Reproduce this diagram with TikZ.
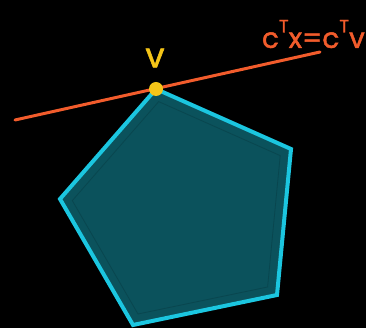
\documentclass[tikz,border=0pt]{standalone}
\usepackage{fontspec}
\setmainfont{Poppins}
\newfontfamily\handfont[FakeBold=1.6]{Poppins}
\usepackage{xcolor}
\definecolor{cBg}    {HTML}{000000}
\definecolor{cFill}  {HTML}{0B525C}
\definecolor{cInner} {HTML}{09464F}
\definecolor{cEdge}  {HTML}{1BC6E0}
\definecolor{cLine}  {HTML}{F25C2C}
\definecolor{cDot}   {HTML}{F5C518}
\usetikzlibrary{calc, positioning}
\newcommand{\supT}{\raisebox{0.55em}{\fontsize{18}{18}\selectfont T}}
\tikzset{
  poly/.style  = {draw=cEdge, fill=cFill, line width=4pt, line join=miter},
  inner/.style = {draw=cInner, line width=0.8pt},
  hyp/.style   = {draw=cLine, line width=3pt, line cap=round},
  vtx/.style   = {circle, fill=cDot, inner sep=0pt, minimum size=14pt},
  lbl/.style   = {text=#1, font=\handfont\fontsize{28}{28}\selectfont, inner sep=0pt},
}

\begin{document}
\begin{tikzpicture}[x=1pt, y=-1pt]
  \fill[cBg] (0,0) rectangle (366,328);
  \useasboundingbox (0,0) rectangle (366,328);

  % pentagon corners
  \coordinate (p1) at (156,89);
  \coordinate (p2) at (291,149);
  \coordinate (p3) at (277,295);
  \coordinate (p4) at (133,325);
  \coordinate (p5) at (60,199);
  \coordinate (mid) at (183,215);

  \draw[poly] (p1) -- (p2) -- (p3) -- (p4) -- (p5) -- cycle;
  \draw[inner] ($(mid)!0.9!(p1)$) -- ($(mid)!0.9!(p2)$) -- ($(mid)!0.9!(p3)$)
               -- ($(mid)!0.9!(p4)$) -- ($(mid)!0.9!(p5)$) -- cycle;

  % supporting line
  \coordinate (la) at (15,120);
  \coordinate (lb) at (320,52);
  \draw[hyp] (la) -- (lb);

  \node[vtx] (v) at (p1) {};
  \node[lbl=cDot, font=\handfont\fontsize{34}{34}\selectfont] (vl) at (155,58) {v};
  \node[lbl=cLine, anchor=east] (eq) at (365,34) {c\supT x=c\supT v};
\end{tikzpicture}
\end{document}
